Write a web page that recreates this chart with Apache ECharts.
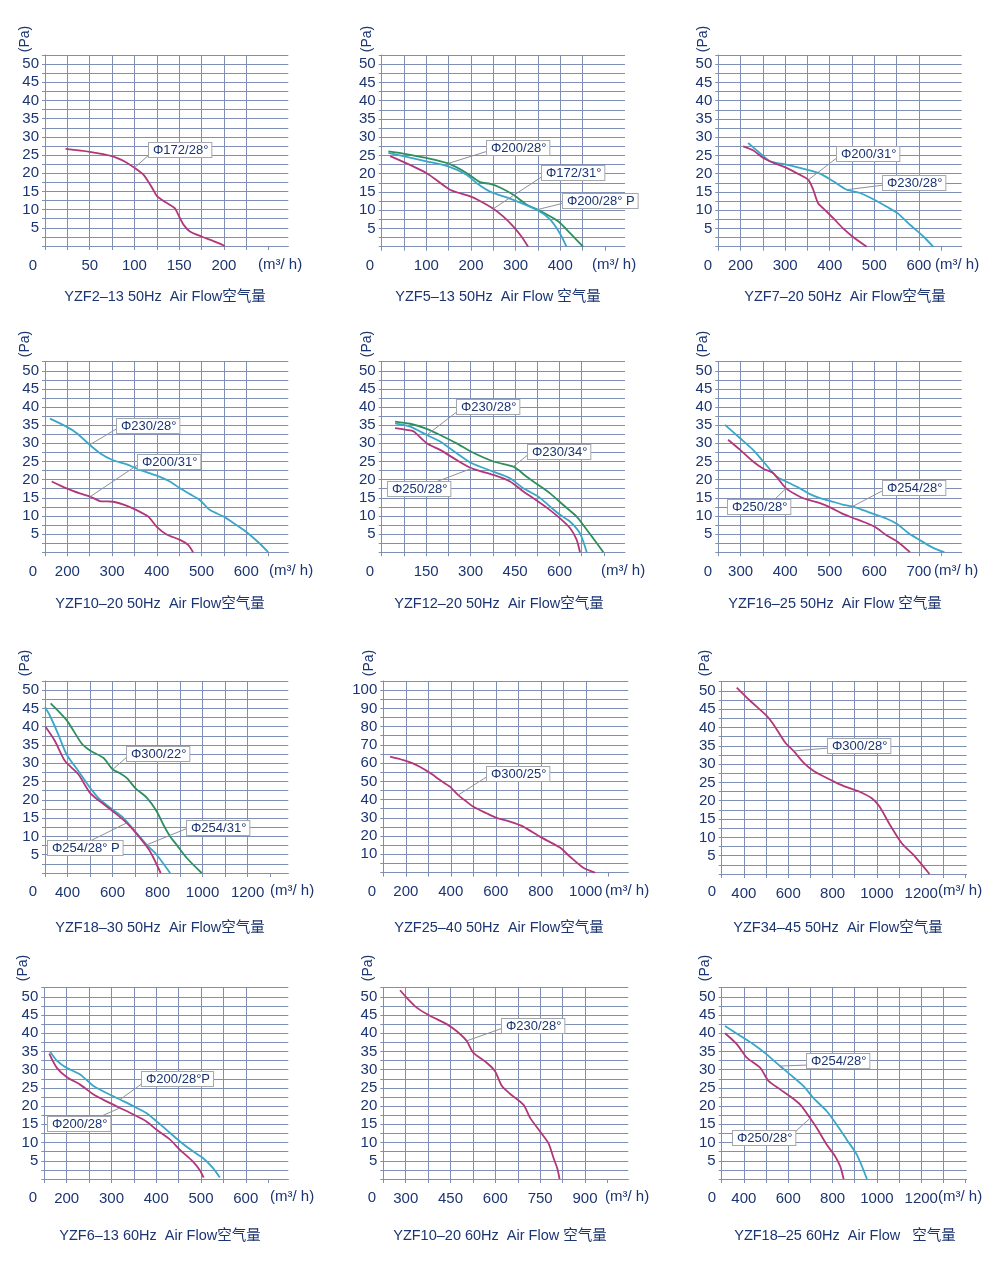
<!DOCTYPE html>
<html><head><meta charset="utf-8">
<script src="https://cdn.jsdelivr.net/npm/echarts@6/dist/echarts.min.js"></script>
<style>html,body{margin:0;padding:0;background:#fff}#c{width:1000px;height:1262px}</style>
</head><body><div id="c"></div><script>
// ---------------- DATA ----------------
const yLabels50 = [5,10,15,20,25,30,35,40,45,50];
const yLabels100 = [10,20,30,40,50,60,70,80,90,100];

// YZF2-13 50Hz
const p1_title = 'YZF2–13 50Hz  Air Flow空气量';
const p1_xLabels = [50,100,150,200];
const p1_phi172_28 = [[23,26.7],[50,25.9],[75,24.7],[90,23.1],[100,21.5],[110,19.6],[120,15.9],[125,13.8],[135,12.0],[145,10.4],[150,8.1],[155,5.8],[162,4.0],[175,2.6],[190,1.2],[201,0]];

// YZF5-13 50Hz
const p2_title = 'YZF5–13 50Hz  Air Flow 空气量';
const p2_xLabels = [100,200,300,400];
const p2_phi200_28 = [[15,26.1],[48,25.5],[100,24.3],[149,22.8],[190,20.2],[220,17.7],[243,17.2],[265,16.2],[295,14.2],[325,11.5],[350,10.1],[369,8.9],[396,6.9],[422,3.7],[451,0]];
const p2_phi200_28P = [[15,25.7],[100,23.4],[149,22.0],[190,19.7],[213,17.4],[243,15.1],[295,12.8],[347,10.1],[377,7.5],[399,3.7],[414,0]];
const p2_phi172_31 = [[19,24.8],[100,20.2],[153,15.6],[198,13.8],[216,12.8],[250,10.4],[272,8.3],[295,5.5],[313,2.8],[328,0]];

// YZF7-20 50Hz
const p3_title = 'YZF7–20 50Hz  Air Flow空气量';
const p3_xLabels = [200,300,400,500,600];
const p3_phi230_28 = [[217,28.4],[243,25.7],[266,23.4],[303,22.5],[348,21.1],[378,20.0],[408,17.9],[438,15.6],[468,14.7],[501,12.8],[527,11.0],[552,9.2],[580,6.0],[610,2.8],[632,0]];
const p3_phi200_31 = [[206,27.5],[228,26.4],[251,24.3],[277,22.8],[303,21.6],[333,19.7],[352,18.3],[363,15.6],[374,11.9],[389,10.1],[408,7.8],[430,5.0],[453,2.6],[483,0]];

// YZF10-20 50Hz
const p4_title = 'YZF10–20 50Hz  Air Flow空气量';
const p4_xLabels = [200,300,400,500,600];
const p4_phi230_28 = [[161,36.8],[198,34.6],[221,32.8],[250,29.6],[273,27.3],[301,25.4],[333,24.2],[362,22.7],[400,21.1],[429,19.5],[452,17.6],[474,16.0],[496,14.4],[519,11.6],[550,9.8],[578,7.5],[601,5.5],[630,2.4],[649,0]];
const p4_phi200_31 = [[165,19.5],[198,17.6],[228,16.2],[251,15.3],[273,14.1],[303,13.9],[329,13.0],[355,11.6],[381,9.8],[400,7.0],[422,4.9],[452,3.4],[470,2.0],[481,0]];

// YZF12-20 50Hz
const p5_title = 'YZF12–20 50Hz  Air Flow空气量';
const p5_xLabels = [150,300,450,600];
const p5_phi230_34 = [[45,36.0],[96,35.4],[152,34.0],[197,32.3],[253,30.0],[304,27.6],[377,25.0],[444,23.6],[461,22.7],[489,20.8],[529,18.5],[568,16.2],[613,13.0],[658,9.8],[680,7.5],[714,3.8],[748,0]];
const p5_phi230_28 = [[45,35.5],[96,34.6],[152,32.3],[197,30.5],[253,27.3],[304,24.5],[377,22.2],[433,20.4],[478,17.6],[529,15.3],[568,12.6],[602,10.3],[636,8.4],[669,5.2],[692,0]];
const p5_phi250_28 = [[45,34.2],[84,33.7],[107,33.3],[152,30.0],[197,28.2],[253,25.4],[304,23.1],[377,21.3],[433,19.5],[478,16.7],[529,13.9],[568,11.6],[602,9.3],[636,6.6],[658,3.4],[669,0]];

// YZF16-25 50Hz
const p6_title = 'YZF16–25 50Hz  Air Flow 空气量';
const p6_xLabels = [300,400,500,600,700];
const p6_phi254_28 = [[265,35.1],[299,31.4],[328,28.2],[351,25.0],[381,20.8],[402,19.5],[433,17.6],[452,16.2],[478,14.9],[502,14.1],[527,13.2],[551,12.6],[575,11.6],[601,10.4],[627,9.3],[652,7.7],[677,5.2],[701,3.4],[732,1.2],[757,0]];
const p6_phi250_28 = [[272,31.0],[299,28.2],[328,25.0],[351,23.0],[373,21.8],[402,17.6],[433,15.3],[452,14.4],[478,13.5],[502,12.3],[527,10.7],[551,9.5],[575,8.4],[601,7.0],[627,4.7],[652,2.9],[680,0]];

// YZF18-30 50Hz
const p7_title = 'YZF18–30 50Hz  Air Flow空气量';
const p7_xLabels = [400,600,800,1000,1200];
const p7_phi300_22 = [[325,46.4],[396,41.8],[463,35.4],[500,33.5],[559,31.5],[601,28.3],[633,27.3],[663,26.0],[700,23.3],[752,20.6],[796,16.9],[826,13.2],[856,10.0],[885,7.7],[930,4.1],[996,0]];
const p7_phi254_31 = [[300,45.3],[322,43.0],[359,37.9],[396,32.4],[448,27.9],[500,23.3],[544,20.1],[601,17.3],[648,15.1],[700,11.4],[752,7.7],[796,5.0],[856,0]];
const p7_phi254_28P = [[303,39.9],[344,36.1],[389,30.6],[448,27.0],[500,21.9],[544,19.6],[601,16.9],[663,13.7],[722,9.6],[767,5.9],[814,0]];

// YZF25-40 50Hz
const p8_title = 'YZF25–40 50Hz  Air Flow空气量';
const p8_xLabels = [200,400,600,800,1000];
const p8_phi300_25 = [[130,63.5],[189,61.6],[248,58.9],[307,54.7],[352,50.7],[396,47.1],[433,42.5],[470,38.9],[500,36.1],[559,32.5],[601,30.1],[663,27.9],[722,25.2],[796,19.7],[885,13.7],[930,8.7],[989,2.7],[1041,0]];

// YZF34-45 50Hz
const p9_title = 'YZF34–45 50Hz  Air Flow空气量';
const p9_xLabels = [400,600,800,1000,1200];
const p9_phi300_28 = [[368,50.9],[428,47.3],[503,43.2],[533,40.9],[586,35.9],[624,33.6],[669,30.4],[713,28.2],[774,26.2],[811,25.1],[864,23.7],[924,22.4],[977,20.7],[1011,18.5],[1059,13.4],[1112,8.4],[1165,5.2],[1237,0]];

// YZF6-13 60Hz
const p10_title = 'YZF6–13 60Hz  Air Flow空气量';
const p10_xLabels = [200,300,400,500,600];
const p10_phi200_28P = [[163,34.9],[178,32.5],[200,30.5],[230,28.7],[260,25.5],[289,23.6],[319,21.8],[349,20.0],[378,18.1],[401,15.8],[423,13.5],[453,10.3],[482,7.6],[505,5.7],[527,3.0],[542,0.4]];
const p10_phi200_28 = [[161,34.4],[178,30.5],[200,28.0],[230,25.9],[260,23.2],[289,21.3],[319,19.5],[349,17.7],[378,15.8],[401,13.5],[431,10.8],[453,8.0],[482,4.8],[497,2.5],[506,0.4]];

// YZF10-20 60Hz
const p11_title = 'YZF10–20 60Hz  Air Flow 空气量';
const p11_xLabels = [300,450,600,750,900];
const p11_phi230_28 = [[281,51.8],[303,49.8],[336,47.1],[381,44.8],[437,42.5],[470,40.6],[504,37.9],[526,34.7],[571,31.9],[599,29.6],[622,25.5],[649,23.4],[694,20.4],[717,16.7],[750,13.0],[778,9.8],[795,5.7],[807,3.0],[815,0]];

// YZF18-25 60Hz
const p12_title = 'YZF18–25 60Hz  Air Flow   空气量';
const p12_xLabels = [400,600,800,1000,1200];
const p12_phi254_28 = [[315,42.0],[383,39.3],[443,37.0],[503,34.2],[563,31.0],[608,28.7],[669,25.5],[714,22.2],[774,18.6],[819,14.9],[864,10.8],[910,6.6],[955,0]];
const p12_phi250_28 = [[315,40.0],[368,37.0],[413,33.3],[474,30.5],[511,26.9],[563,24.6],[608,22.7],[654,20.4],[699,16.7],[729,14.0],[774,9.4],[812,6.2],[835,3.4],[850,0]];

// ---------------- STYLE / LAYOUT ----------------
const MAG = '#b3367a', CYA = '#3aa6c8', GRN = '#2f8f5c';
const GRID = '#7f8fb3';
const TXT = '#1b3572';
const FONT = 'Arial, "Liberation Sans", "Noto Sans CJK SC", sans-serif';

const panels = [
 {title:p1_title, xMin:0, xMax:272, xInt:25, xLabels:p1_xLabels, yMax:52.5, yInt:2.5, yLabels:yLabels50,
  series:[{name:'Φ172/28°', data:p1_phi172_28, color:MAG}]},
 {title:p2_title, xMin:0, xMax:545, xInt:50, xLabels:p2_xLabels, yMax:52.5, yInt:2.5, yLabels:yLabels50,
  series:[{name:'Φ200/28°', data:p2_phi200_28, color:GRN},{name:'Φ200/28° P', data:p2_phi200_28P, color:CYA},{name:'Φ172/31°', data:p2_phi172_31, color:MAG}]},
 {title:p3_title, xMin:150, xMax:696, xInt:50, xLabels:p3_xLabels, yMax:52.5, yInt:2.5, yLabels:yLabels50,
  series:[{name:'Φ230/28°', data:p3_phi230_28, color:CYA},{name:'Φ200/31°', data:p3_phi200_31, color:MAG}]},
 {title:p4_title, xMin:150, xMax:694, xInt:50, xLabels:p4_xLabels, yMax:52.5, yInt:2.5, yLabels:yLabels50,
  series:[{name:'Φ230/28°', data:p4_phi230_28, color:CYA},{name:'Φ200/31°', data:p4_phi200_31, color:MAG}]},
 {title:p5_title, xMin:0, xMax:821, xInt:75, xLabels:p5_xLabels, yMax:52.5, yInt:2.5, yLabels:yLabels50,
  series:[{name:'Φ230/34°', data:p5_phi230_34, color:GRN},{name:'Φ230/28°', data:p5_phi230_28, color:CYA},{name:'Φ250/28°', data:p5_phi250_28, color:MAG}]},
 {title:p6_title, xMin:250, xMax:796, xInt:50, xLabels:p6_xLabels, yMax:52.5, yInt:2.5, yLabels:yLabels50,
  series:[{name:'Φ254/28°', data:p6_phi254_28, color:CYA},{name:'Φ250/28°', data:p6_phi250_28, color:MAG}]},
 {title:p7_title, xMin:300, xMax:1381, xInt:100, xLabels:p7_xLabels, yMax:52.5, yInt:2.5, yLabels:yLabels50,
  series:[{name:'Φ300/22°', data:p7_phi300_22, color:GRN},{name:'Φ254/31°', data:p7_phi254_31, color:CYA},{name:'Φ254/28° P', data:p7_phi254_28P, color:MAG}]},
 {title:p8_title, xMin:100, xMax:1189, xInt:100, xLabels:p8_xLabels, yMax:105, yInt:5, yLabels:yLabels100,
  series:[{name:'Φ300/25°', data:p8_phi300_25, color:MAG}]},
 {title:p9_title, xMin:300, xMax:1405, xInt:100, xLabels:p9_xLabels, yMax:52.5, yInt:2.5, yLabels:yLabels50,
  series:[{name:'Φ300/28°', data:p9_phi300_28, color:MAG}]},
 {title:p10_title, xMin:150, xMax:695, xInt:50, xLabels:p10_xLabels, yMax:52.5, yInt:2.5, yLabels:yLabels50,
  series:[{name:'Φ200/28°P', data:p10_phi200_28P, color:CYA},{name:'Φ200/28°', data:p10_phi200_28, color:MAG}]},
 {title:p11_title, xMin:225, xMax:1045, xInt:75, xLabels:p11_xLabels, yMax:52.5, yInt:2.5, yLabels:yLabels50,
  series:[{name:'Φ230/28°', data:p11_phi230_28, color:MAG}]},
 {title:p12_title, xMin:300, xMax:1405, xInt:100, xLabels:p12_xLabels, yMax:52.5, yInt:2.5, yLabels:yLabels50,
  series:[{name:'Φ254/28°', data:p12_phi254_28, color:CYA},{name:'Φ250/28°', data:p12_phi250_28, color:MAG}]}
];

const layout = [
 {left:45,    top:55,    bottom:246,   right:288.3, pa:[25,39],   zero:[33,266],  unit:258, title:[165,297]},
 {left:381.7, top:55,    bottom:246.7, right:625,   pa:[367,39],  zero:[370,266], unit:592, title:[498,297]},
 {left:718.3, top:55,    bottom:246.7, right:961.7, pa:[703,39],  zero:[708,266], unit:935, title:[845,297]},
 {left:45,    top:361.7, bottom:552.2, right:288.3, pa:[25,344],  zero:[33,572],  unit:269, title:[160,604]},
 {left:381.7, top:361.7, bottom:552.2, right:625,   pa:[367,344], zero:[370,572], unit:601, title:[499,604]},
 {left:718.3, top:361.7, bottom:552.2, right:961.7, pa:[703,344], zero:[708,572], unit:934, title:[835,604]},
 {left:45,    top:681,   bottom:873,   right:288.3, pa:[25,663],  zero:[33,892],  unit:270, title:[160,928]},
 {left:383.3, top:681,   bottom:872.6, right:628.3, pa:[369,663], zero:[372,892], unit:605, title:[499,928]},
 {left:721.7, top:681.7, bottom:874,   right:966.7, pa:[705,663], zero:[712,892], unit:938, title:[838,928]},
 {left:44.3,  top:987.7, bottom:1179,  right:288.3, pa:[23,968],  zero:[33,1198], unit:270, title:[160,1236]},
 {left:383.3, top:987.7, bottom:1179,  right:628.3, pa:[368,968], zero:[372,1198], unit:605, title:[500,1236]},
 {left:721.7, top:987.7, bottom:1179,  right:966.7, pa:[705,968], zero:[712,1198], unit:938, title:[845,1236]}
];

// annotation boxes (pixel layout) -> point on a series chosen by its x value
const notes = [
 {p:0, s:0, at:100, box:[149,143], from:[150,154]},
 {p:1, s:0, at:149, box:[487,141], from:[488,151]},
 {p:1, s:2, at:250, box:[542,166], from:[543,176]},
 {p:1, s:1, at:347, box:[563,194], from:[564,203]},
 {p:2, s:1, at:352, box:[837,147], from:[838,157]},
 {p:2, s:0, at:438, box:[883,176], from:[884,185]},
 {p:3, s:0, at:250, box:[117,419], from:[118,428]},
 {p:3, s:1, at:251, box:[138,455], from:[139,464]},
 {p:4, s:1, at:152, box:[457,400], from:[458,411]},
 {p:4, s:0, at:444, box:[528,445], from:[529,454]},
 {p:4, s:2, at:304, box:[388,482], from:[433,483]},
 {p:5, s:0, at:551, box:[883,481], from:[884,490]},
 {p:5, s:1, at:402, box:[728,500], from:[773,501]},
 {p:6, s:0, at:601, box:[127,747], from:[128,756]},
 {p:6, s:1, at:752, box:[187,821], from:[188,828]},
 {p:6, s:2, at:663, box:[48,841],  from:[88,842]},
 {p:7, s:0, at:433, box:[487,767], from:[488,776]},
 {p:8, s:0, at:624, box:[828,739], from:[829,748]},
 {p:9, s:0, at:319, box:[142,1072], from:[143,1083]},
 {p:9, s:1, at:319, box:[48,1117], from:[97,1118]},
 {p:10, s:0, at:504, box:[502,1019], from:[503,1028]},
 {p:11, s:0, at:563, box:[807,1054], from:[808,1065]},
 {p:11, s:1, at:699, box:[733,1131], from:[795,1132]}
];

// ---------------- BUILD ----------------
const chart = echarts.init(document.getElementById('c'), null, {renderer:'canvas'});
const grid=[], xAxis=[], yAxis=[], series=[];
const plain = v => String(v);
panels.forEach((p,i)=>{
  const L = layout[i];
  grid.push({left:L.left, top:L.top, width:L.right-L.left, height:L.bottom-L.top, containLabel:false, outerBoundsMode:'none'});
  const xt=[]; for(let v=p.xMin; v<=p.xMax+1e-9; v+=p.xInt) xt.push(v);
  xAxis.push({gridIndex:i, type:'value', min:p.xMin, max:p.xMax, interval:p.xInt,
    axisLine:{show:true, onZero:false, lineStyle:{color:GRID, width:1}},
    axisTick:{show:true, length:4, customValues:xt, lineStyle:{color:GRID, width:1}},
    axisLabel:{customValues:p.xLabels, formatter:plain, margin:12, color:TXT, fontSize:15, fontFamily:FONT},
    splitLine:{show:true, showMaxLine:false, lineStyle:{color:GRID, width:1}}});
  yAxis.push({gridIndex:i, type:'value', min:0, max:p.yMax, interval:p.yInt,
    axisLine:{show:true, onZero:false, lineStyle:{color:GRID, width:1}},
    axisTick:{show:true, length:3, lineStyle:{color:GRID, width:1}},
    axisLabel:{customValues:p.yLabels, formatter:plain, margin:6, color:TXT, fontSize:15, fontFamily:FONT},
    splitLine:{show:true, lineStyle:{color:GRID, width:1}}});
  p.series.forEach(s=>{
    series.push({type:'line', name:s.name, xAxisIndex:i, yAxisIndex:i, data:s.data,
      showSymbol:false, symbol:'none', smooth:0.25, silent:true, z:3,
      lineStyle:{color:s.color, width:1.8}});
  });
});

chart.setOption({animation:false, backgroundColor:'#fff', grid, xAxis, yAxis, series});

const graphic=[];
panels.forEach((p,i)=>{
  const L = layout[i];
  graphic.push({type:'text', x:L.title[0], y:L.title[1], z:10,
    style:{text:p.title, fill:TXT, fontSize:14.5, fontFamily:FONT, align:'center', verticalAlign:'middle', textAlign:'center', textVerticalAlign:'middle'}});
  graphic.push({type:'text', x:L.zero[0], y:L.zero[1], z:10,
    style:{text:'0', fill:TXT, fontSize:15, fontFamily:FONT, align:'center', verticalAlign:'middle', textAlign:'center', textVerticalAlign:'middle'}});
  graphic.push({type:'text', x:L.unit, y:L.zero[1]-1, z:10,
    style:{text:'(m³/ h)', fill:TXT, fontSize:15, fontFamily:FONT, align:'left', verticalAlign:'middle', textAlign:'left', textVerticalAlign:'middle'}});
  graphic.push({type:'text', x:L.pa[0], y:L.pa[1], rotation:Math.PI/2, z:10,
    style:{text:'(Pa)', fill:TXT, fontSize:14, fontFamily:FONT, align:'center', verticalAlign:'middle', textAlign:'center', textVerticalAlign:'middle'}});
});
notes.forEach(n=>{
  const s = panels[n.p].series[n.s];
  const pt = s.data.find(d=>d[0]===n.at);
  const px = chart.convertToPixel({xAxisIndex:n.p, yAxisIndex:n.p}, pt);
  graphic.push({type:'line', z:8, shape:{x1:n.from[0], y1:n.from[1], x2:px[0], y2:px[1]},
    style:{stroke:'#8c8f99', lineWidth:1}});
  graphic.push({type:'text', x:n.box[0], y:n.box[1], z:9,
    style:{text:s.name, fill:TXT, fontSize:13, fontFamily:FONT, align:'left', verticalAlign:'top', textAlign:'left', textVerticalAlign:'top',
      backgroundColor:'#ffffff', borderColor:'#a4a7ae', borderWidth:1, padding:[1,3,0,4]}});
});
chart.setOption({graphic});
</script></body></html>
